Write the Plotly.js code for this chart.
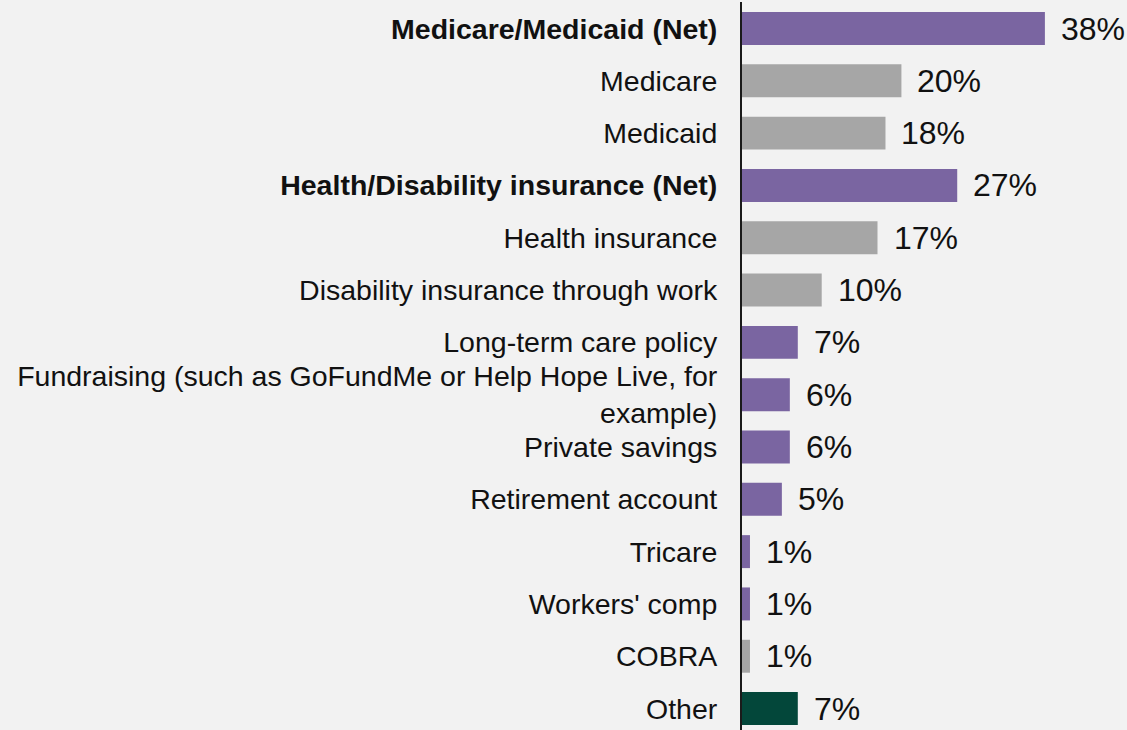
<!DOCTYPE html>
<html>
<head>
<meta charset="utf-8">
<script src="https://cdn.plot.ly/plotly-3.0.1.min.js"></script>
<style>
  html, body { margin: 0; padding: 0; background: #f2f2f2; }
  #chart { width: 1127px; height: 730px; }
</style>
</head>
<body>
<div id="chart"></div>
<script>
const categories = [
  "Medicare/Medicaid (Net)",
  "Medicare",
  "Medicaid",
  "Health/Disability insurance (Net)",
  "Health insurance",
  "Disability insurance through work",
  "Long-term care policy",
  "Fundraising (such as GoFundMe or Help Hope Live, for<br>example)",
  "Private savings",
  "Retirement account",
  "Tricare",
  "Workers' comp",
  "COBRA",
  "Other"
];
const values = [38, 20, 18, 27, 17, 10, 7, 6, 6, 5, 1, 1, 1, 7];
const groups = ["net", "sub", "sub", "net", "sub", "sub", "item", "item", "item", "item", "item", "item", "sub", "other"];
const boldRows = ["Medicare/Medicaid (Net)", "Health/Disability insurance (Net)"];

const colorMap = { net: "#7a65a1", item: "#7a65a1", sub: "#a6a6a6", other: "#03473a" };
const colors = groups.map(g => colorMap[g]);
const tickText = categories.map(c => boldRows.includes(c) ? "<b>" + c + "</b>" : c);

const trace = {
  type: "bar",
  orientation: "h",
  x: values,
  y: categories,
  width: 0.63,
  marker: { color: colors, line: { width: 0 } },
  hoverinfo: "x+y"
};

const annotations = values.map((v, i) => ({
  x: v, y: categories[i], xref: "x", yref: "y",
  text: v + "%", showarrow: false, xanchor: "left", yanchor: "middle",
  xshift: 14, yshift: 0,
  font: { family: "Liberation Sans, Arial, sans-serif", size: 32, color: "#111" }
}));

const layout = {
  width: 1127, height: 730,
  margin: { l: 742, r: 0, t: 2, b: 0, pad: 0 },
  paper_bgcolor: "#f2f2f2",
  plot_bgcolor: "#f2f2f2",
  showlegend: false,
  xaxis: {
    range: [0, 48.3], showgrid: false, zeroline: false, showticklabels: false,
    showline: false, fixedrange: true
  },
  yaxis: {
    type: "category",
    range: [13.41, -0.507],
    tickvals: categories, ticktext: tickText,
    showgrid: false, zeroline: false,
    showline: true, linecolor: "#1a1a1a", linewidth: 2,
    ticks: "outside", ticklen: 17, tickcolor: "rgba(0,0,0,0)",
    tickfont: { family: "Liberation Sans, Arial, sans-serif", size: 28.5, color: "#111" },
    automargin: false, fixedrange: true
  },
  annotations: annotations
};

Plotly.newPlot("chart", [trace], layout, { displayModeBar: false, staticPlot: true });
</script>
</body>
</html>
